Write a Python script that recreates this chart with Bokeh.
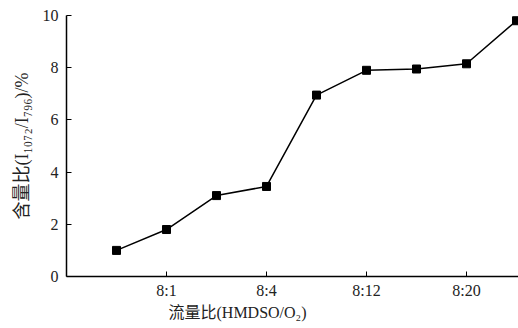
from bokeh.plotting import figure
from bokeh.models import Range1d, FixedTicker, Title
from bokeh.embed import file_html
from bokeh.resources import INLINE

# data
x_pos = [1, 2, 3, 4, 5, 6, 7, 8, 9]
content_ratio = [1.0, 1.8, 3.1, 3.45, 6.95, 7.9, 7.95, 8.15, 9.8]
tick_positions = [2, 4, 6, 8]
tick_labels = ["8:1", "8:4", "8:12", "8:20"]
y_ticks = [0, 2, 4, 6, 8, 10]

FONT = "Liberation Serif, Noto Sans CJK SC"

p = figure(width=518, height=328, output_backend="svg", toolbar_location=None,
           x_range=Range1d(0, 9.04), y_range=Range1d(0, 10),
           min_border_left=66, min_border_right=0, min_border_top=15, min_border_bottom=52)
p.outline_line_color = None
p.grid.grid_line_color = None
p.background_fill_color = "white"

p.line(x_pos, content_ratio, line_color="black", line_width=1.5)
p.scatter(x_pos, content_ratio, marker="square", size=8, fill_color="black", line_color="black")

xa = p.xaxis[0]
xa.ticker = FixedTicker(ticks=tick_positions)
xa.major_label_overrides = {t: l for t, l in zip(tick_positions, tick_labels)}
xa.minor_tick_line_color = None
xa.major_tick_in = 5
xa.major_tick_out = 0
xa.axis_line_width = 1.5
xa.major_label_text_font = FONT
xa.major_label_text_font_size = "16px"
xa.major_label_text_color = "#222222"
xa.major_label_standoff = 5

ya = p.yaxis[0]
ya.ticker = FixedTicker(ticks=y_ticks)
ya.minor_tick_line_color = None
ya.major_tick_in = 5
ya.major_tick_out = 0
ya.axis_line_width = 1.5
ya.major_label_text_font = FONT
ya.major_label_text_font_size = "16px"
ya.major_label_text_color = "#222222"
ya.major_label_standoff = 8
ya.axis_label = "含量比(I₁₀₇₂/I₇₉₆)/%"
ya.axis_label_text_font = FONT
ya.axis_label_text_font_style = "normal"
ya.axis_label_text_font_size = "18px"
ya.axis_label_text_color = "#222222"
ya.axis_label_standoff = 8

xt = Title(text="流量比(HMDSO/O₂)", align="left", offset=102,
           text_font=FONT, text_font_size="16px", text_font_style="normal",
           text_color="#222222", standoff=0)
p.add_layout(xt, "below")

open("out.html", "w").write(file_html(p, INLINE))
